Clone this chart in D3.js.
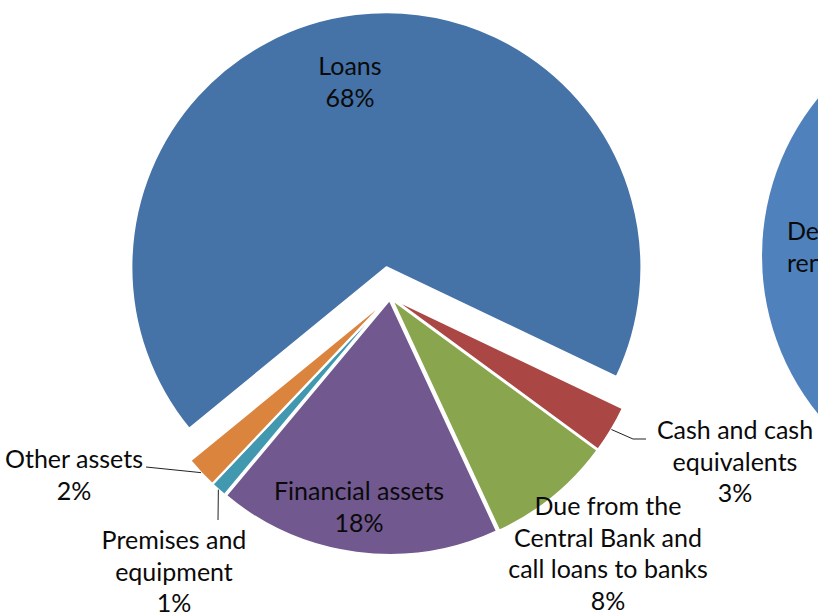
<!DOCTYPE html>
<html>
<head>
<meta charset="utf-8">
<script src="https://cdn.jsdelivr.net/npm/d3@7"></script>
<style>
  html, body { margin: 0; padding: 0; background: #fff; overflow: hidden; }
  text { font-family: "Lato", "Open Sans", sans-serif; fill: #0a0a0a; }
</style>
</head>
<body>
<svg id="chart" width="818" height="615"></svg>
<script>
// Asset structure (share of total assets, %)
const categories = [
  "Cash and cash equivalents",
  "Due from the Central Bank and call loans to banks",
  "Financial assets",
  "Premises and equipment",
  "Other assets",
  "Loans"
];
const shares = [3, 8, 18, 1, 2, 68];
const sliceColors = ["#AA4643", "#89A54E", "#71588F", "#4198AF", "#DB843D", "#4572A7"];

// Label lines for each category (percentage is appended as the last line)
const labelLines = [
  ["Cash and cash", "equivalents"],
  ["Due from the", "Central Bank and", "call loans to banks"],
  ["Financial assets"],
  ["Premises and", "equipment"],
  ["Other assets"],
  ["Loans"]
];

// Neighbouring liabilities chart (only its left edge is in view)
const sideLabelLines = ["Dep", "ren"];

// ---- layout ----
const width = 818, height = 615;
const cx = 390, cy = 297, radius = 255;
const explodeBig = 30, explodeSmall = 3;
const startDeg = 115.5;
const lineGap = 31.5;
const fontSize = 25;

const labelPos = [
  { x: 735, y: 439 },
  { x: 608, y: 515 },
  { x: 359, y: 500 },
  { x: 174, y: 549 },
  { x: 74,  y: 468 },
  { x: 350, y: 75 }
];
// Extra leader-line points after the slice's outer midpoint
const leaders = [
  [[633, 439], [646, 439]],
  null,
  null,
  [[218, 520]],
  [[146, 467]],
  null
];

const svg = d3.select("#chart");
const rad = d => d * Math.PI / 180;

const data = categories.map((c, i) => ({ name: c, value: shares[i], i }));

const pie = d3.pie()
  .sort(null)
  .value(d => d.value)
  .startAngle(rad(startDeg))
  .endAngle(rad(startDeg + 360));

const arcs = pie(data);
const arc = d3.arc().innerRadius(0).outerRadius(radius);

const color = d3.scaleOrdinal().domain(categories).range(sliceColors);

function offsetOf(d) {
  const mid = (d.startAngle + d.endAngle) / 2;
  const e = d.data.name === "Loans" ? explodeBig : explodeSmall;
  return [cx + e * Math.sin(mid), cy - e * Math.cos(mid)];
}

// Side chart circle (clipped by the frame)
svg.append("circle")
  .attr("cx", 1012).attr("cy", 256).attr("r", 250)
  .attr("fill", "#4F81BD");
svg.append("text")
  .attr("font-size", fontSize)
  .selectAll("tspan")
  .data(sideLabelLines)
  .join("tspan")
  .attr("x", 787)
  .attr("y", (d, k) => 240 + k * lineGap)
  .text(d => d);

// Slices
svg.append("g")
  .selectAll("path")
  .data(arcs)
  .join("path")
  .attr("transform", d => `translate(${offsetOf(d)})`)
  .attr("d", arc)
  .attr("fill", d => color(d.data.name))
  .attr("stroke", "#fff")
  .attr("stroke-width", 2)
  .attr("stroke-linejoin", "round");

// Leader lines from the outer midpoint of small slices
const line = d3.line();
svg.append("g")
  .selectAll("path")
  .data(arcs.filter(d => leaders[d.data.i]))
  .join("path")
  .attr("d", d => {
    const [ox, oy] = offsetOf(d);
    const mid = (d.startAngle + d.endAngle) / 2;
    const p0 = [ox + radius * Math.sin(mid), oy - radius * Math.cos(mid)];
    return line([p0, ...leaders[d.data.i]]);
  })
  .attr("fill", "none")
  .attr("stroke", "#222")
  .attr("stroke-width", 1);

// Data labels
const pct = d3.format(".0%");
svg.append("g")
  .selectAll("text")
  .data(arcs)
  .join("text")
  .attr("font-size", fontSize)
  .attr("text-anchor", "middle")
  .each(function (d) {
    const p = labelPos[d.data.i];
    const lines = [...labelLines[d.data.i], pct(d.data.value / 100)];
    d3.select(this).selectAll("tspan")
      .data(lines)
      .join("tspan")
      .attr("x", p.x)
      .attr("y", (t, k) => p.y + k * lineGap)
      .text(t => t);
  });
</script>
</body>
</html>
